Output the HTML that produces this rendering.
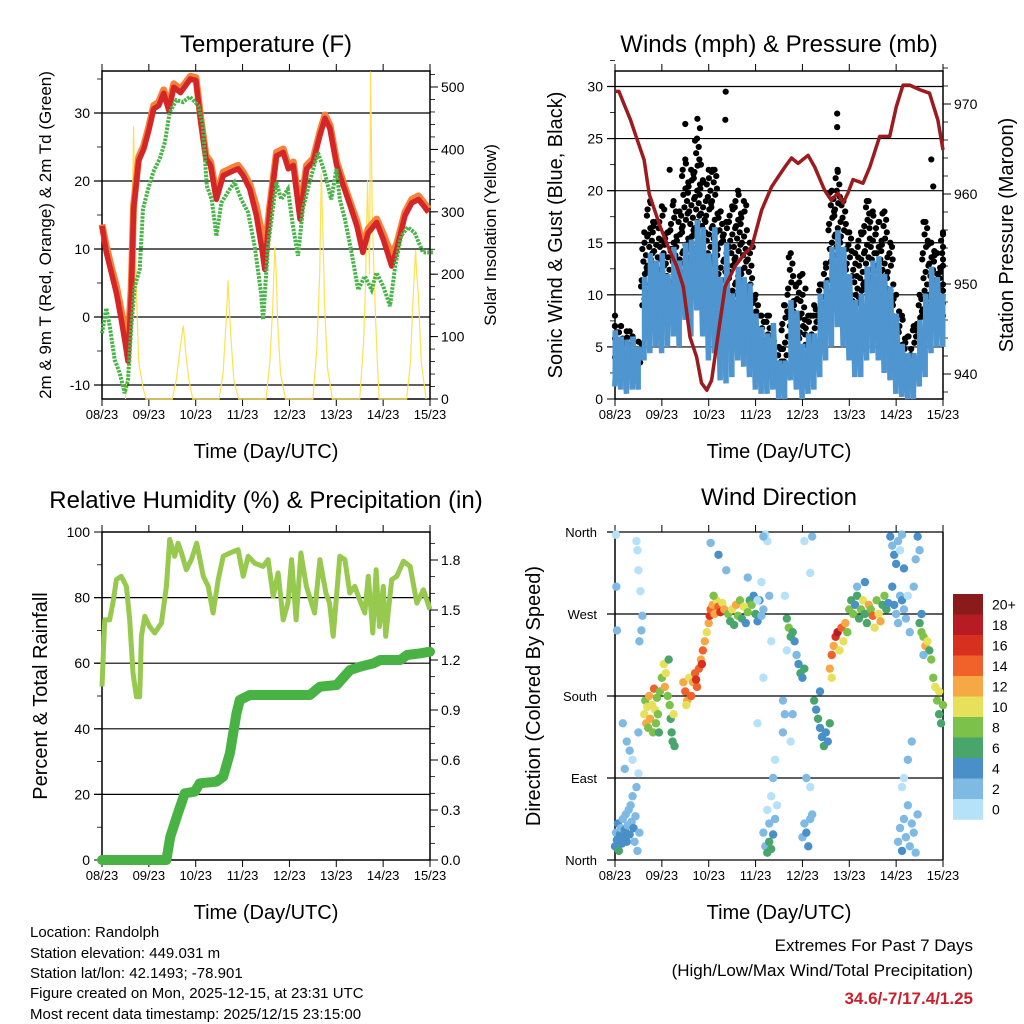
<!DOCTYPE html>
<html><head><meta charset="utf-8"><style>
html,body{margin:0;padding:0;background:#fff;}
svg{display:block;font-family:"Liberation Sans",Arial,sans-serif;}
</style></head><body>
<svg id="c" width="1024" height="1024" viewBox="0 0 1024 1024" xmlns="http://www.w3.org/2000/svg">
<rect width="1024" height="1024" fill="#fff"/>
<text x="266" y="52" font-size="24" text-anchor="middle">Temperature (F)</text>
<text x="779" y="52" font-size="24" text-anchor="middle">Winds (mph) &amp; Pressure (mb)</text>
<text x="266" y="508" font-size="24" text-anchor="middle">Relative Humidity (%) &amp; Precipitation (in)</text>
<text x="779" y="505" font-size="24" text-anchor="middle">Wind Direction</text>
<text x="266" y="458" font-size="20" text-anchor="middle">Time (Day/UTC)</text>
<text x="779" y="458" font-size="20" text-anchor="middle">Time (Day/UTC)</text>
<text x="266" y="919" font-size="20" text-anchor="middle">Time (Day/UTC)</text>
<text x="779" y="919" font-size="20" text-anchor="middle">Time (Day/UTC)</text>
<text transform="translate(51,235) rotate(-90)" font-size="17" text-anchor="middle">2m &amp; 9m T (Red, Orange) &amp; 2m Td (Green)</text>
<text transform="translate(496,235) rotate(-90)" font-size="17" text-anchor="middle">Solar Insolation (Yellow)</text>
<text transform="translate(562,235) rotate(-90)" font-size="20" text-anchor="middle">Sonic Wind &amp; Gust (Blue, Black)</text>
<text transform="translate(1013,235) rotate(-90)" font-size="20" text-anchor="middle">Station Pressure (Maroon)</text>
<text transform="translate(47,696) rotate(-90)" font-size="20" text-anchor="middle">Percent &amp; Total Rainfall</text>
<text transform="translate(540,696) rotate(-90)" font-size="20" text-anchor="middle">Direction (Colored By Speed)</text>
<text x="968" y="615" font-size="15" text-anchor="middle">mph</text>
<g font-size="15">
<text x="30" y="937">Location: Randolph</text>
<text x="30" y="958">Station elevation: 449.031 m</text>
<text x="30" y="978">Station lat/lon: 42.1493; -78.901</text>
<text x="30" y="998">Figure created on Mon, 2025-12-15, at 23:31 UTC</text>
<text x="30" y="1019">Most recent data timestamp: 2025/12/15 23:15:00</text>
</g>
<g font-size="17" text-anchor="end">
<text x="973" y="951">Extremes For Past 7 Days</text>
<text x="973" y="976">(High/Low/Max Wind/Total Precipitation)</text>
<text x="973" y="1004" fill="#c8202c" font-weight="bold">34.6/-7/17.4/1.25</text>
</g>
<g id="layer"></g>
</svg>
<script>
// ---------- data ----------
const dayLabels = ['08/23','09/23','10/23','11/23','12/23','13/23','14/23','15/23'];
const tempHrs = [0,2.2,4.8,7.4,9.9,11.6,13.3,15.0,16.2,18.8,21.4,23.9,26.5,29.1,31.6,34.2,36.8,40.2,45.3,48.1,50.6,53.2,55.6,58.6,62.1,67.2,69.7,72.3,75.7,79.1,81.7,83.4,86.0,89.4,92.8,95.4,98.0,101.4,104.8,108.2,111.6,114.2,116.8,120.2,123.6,127.1,130.5,133.6,136.4,140.7,144.1,148.4,151.0,155.2,158.7,162.1,164.6,167.2];
const temp2m = [13.4,9.5,6.5,3.5,-0.4,-3.3,-6.5,3.5,15.9,23,24.7,27.4,30.6,31.1,32.9,30.4,33.8,33,35,34.8,28.7,23.3,22.3,17.3,20.8,21.5,21.8,20.8,18.8,14.9,10.4,7.0,15.9,23.7,24.2,21.8,22.3,14.4,21.8,22.8,26.7,29.2,27.7,22.3,19.3,16.4,13.4,9.5,12.4,13.9,11.4,7.5,10,14.9,16.8,17.3,16.4,15.4];
const temp9m = [13.6,10.4,7.3,4.5,0.8,-1.9,-4.2,4.5,16.4,23.5,25.2,27.9,31.1,31.6,33.4,30.9,34.3,33.5,35.4,35.2,29.2,23.8,22.8,17.8,21.3,22,22.3,21.3,19.5,16.2,12.5,9.5,16.4,24.2,24.7,22.3,22.8,15.4,22.3,23.3,27.2,29.7,28.2,22.8,19.8,16.9,14.1,10.5,13,14.4,12.2,9,10.8,15.4,17.3,17.8,16.9,15.9];
const dewHrs = [0,2.2,4.0,6.5,9.1,11.6,13.3,15.0,16.8,19.3,21.0,23.6,26.2,29.6,32.2,34.7,38.1,41.5,45.0,49.3,51.6,53.7,56.2,58.6,61.1,65.4,67.9,71.3,74.8,78.2,81.5,82.5,85.0,89.3,91.8,95.2,97.8,100.4,102.9,106.3,110.6,114.0,117.4,120.1,121.8,124.4,127.8,131.2,134.6,138.1,140.6,144.1,147.5,150.2,153.2,156.6,160.1,164.4,169.5];
const dew2m = [-2.4,1.3,-1.4,-6.3,-8.3,-11.2,-9.3,-1.4,4.5,7,15.9,18.8,21.3,23.3,25.7,30.1,31.9,31.6,32.4,31.1,28.2,19.3,17.3,11.9,16.8,18.8,19.8,17.3,15.4,10.4,3.5,-0.4,10.4,19.8,17.3,18.8,13.4,9,15.9,19.8,24.2,21.3,17.3,21.8,17.3,14.4,9.5,4,6,4,6.5,4.5,1.6,7.5,11.9,13.2,12.4,9.5,9.5];
const solarHrs = [12,13.5,14.8,16.2,16.8,17.5,18.8,20.9,22.5, 36,38,40,41.6,42.3,43,44.5,46.5, 60,62,63.5,64.6,65.3,66,67.5,70, 84,86,87.5,88.5,89.3,90,91.5,94, 108,110,111.5,112.3,113.2,114,115.5,118, 132,134,135,136,137,137.6,138.4,139.5,141,142, 156,158,159,160.6,161.2,162,163.5,166];
const solarVal = [0,60,150,437,300,180,60,20,0, 0,30,80,118,95,70,30,0, 0,40,120,190,140,100,30,0, 0,60,150,244,200,120,40,0, 0,80,200,362,260,150,50,0, 0,90,190,350,200,525,300,180,60,0, 0,60,140,239,200,170,60,0];
const windHrs = [0,3,6,9,12,15,18,21,24,27,30,33,36,39,42,45,48,51,54,57,60,63,66,69,72,75,78,81,84,87,90,93,96,99,102,105,108,111,114,117,120,123,126,129,132,135,138,141,144,147,150,153,156,159,162,165,168];
const windLo = [1.2,0.9,0.5,0.9,0.9,3.7,4.4,5,4.4,5,6,5,7.6,6,8.5,6,3.7,4.4,1.8,1.5,2.1,3.7,3.1,2.1,0.9,0.5,0.5,0.9,0,0,1.8,0.9,0,0.5,0.9,2.1,3.7,5,6.9,5,3.7,2.1,2.1,3.7,4.4,3.7,2.5,1.8,0.5,0.2,0,0,1.2,2.1,4.4,5,5];
const windHi = [6.6,6,5.7,6,5,11.7,14,13.3,14,12,14.6,13.3,15,15.3,17.2,16.5,14,16.5,11.7,15,10.1,12.7,11.7,11.1,8.2,6.9,6.3,7.3,3.7,3.7,9.5,8.5,5.3,6.3,6.3,10.1,11.4,14.6,16.2,14.6,12,9.5,10.1,12.7,13.3,13.7,12,10.8,8.2,5.3,4.4,4.4,7.6,10.1,12.7,11.7,10.1];
const gustLo = [4,4,3.5,4,3.5,9,11,10,11,10,12,11,13,12,14,13,11,13,9,11,8,10,9,8,6,5,5,5,3,3,7,6,4,5,5,8,9,12,14,12,10,7,8,10,11,11,10,8,6,4,3,3,6,8,10,9,8];
const gustHi = [7,7,6.5,6,5.5,16,19,17,18.5,16,19,18,23,22,25,21,22,22,18,17,18.5,20,19,15,10,8,8,6,5,9,14,11,12,8,9,11,13,20,22,19,16,14,16,19,18,17,18,15,10,8,6,7,10,17,15,14,16];
const gustOutHrs = [0,36,42.2,43.5,56.7,56.5,113.8,113.8,162,163,28,44];
const gustOutVal = [8,26.4,26.9,26,29.5,26.8,27.4,26.1,23,20.4,22,22.5];
const presHrs = [0,2,4.6,8,11.4,14.9,17.5,23.1,28.2,31.6,35.0,38.4,41.8,44.3,47.0,49.5,52.9,56.4,61.5,66.6,70.0,75.1,80.2,83.6,87.0,90.4,93.8,98.9,102.3,107.4,110.8,114.2,116.8,119.3,121.9,127.0,130.5,135.6,140.7,144.1,147.5,150.9,156.0,161.1,165.4,168];
const presVal = [971.4,971.4,970,968.2,966,963.8,960,956.4,953.6,952,949.7,944.1,941.9,939,938.2,939.3,944.5,949.7,952,953.4,954.1,958.2,960.8,961.9,963,964,963.4,964.3,963,960.4,959.3,960.1,959,960.1,961.6,961.2,963,966.4,966.4,969.7,972.1,972.1,971.6,971.2,968.2,964.9];
const rhHrs = [0,1.4,3.9,5.6,7.4,9.9,12.5,14.2,15.9,17.6,19.3,20.2,21.9,24.4,27.0,30.4,33.0,34.7,37.2,39.0,40.7,43.2,45.8,48.5,51.9,54.4,56.9,59.5,62.1,65.5,69.7,72.3,74.9,78.2,82.5,85.1,87.7,90.2,92.8,95.2,97.1,99.4,101.9,104.7,108.9,111.6,114.7,116.6,118.4,121.8,124.4,126.9,129.5,132.0,134.6,136.4,138.7,140.4,142.1,144.1,145.3,148.4,151.0,154.4,157.8,161.3,164.6,168];
const rhVal = [52.9,73.2,73.2,78.3,85.5,86.5,83.4,73.2,57,49.8,49.8,68.2,74.3,71.2,69.2,72.2,83.4,97.7,92.6,96.6,93.6,88.5,91.6,96.6,86.5,83.4,75.3,85.5,92.6,93.6,94.6,86.5,92.6,90.5,89.5,91.6,80.4,87.5,73.2,78.3,91.6,73.2,93.6,83.4,75.3,91.6,81.4,78.3,68.2,92.6,91.6,81.4,83.4,79.3,75.3,86.5,69.2,88.5,71.2,83.4,68.2,85.5,86.5,91.1,89.5,78.3,82.4,76.3];
const rainHrs = [0,33,35,38.9,42.4,47.5,50.1,58.6,62.1,65.5,68.9,70.6,75.7,106.5,111.6,120.2,127.1,132.2,139.1,142.5,152.8,156.2,163.1,168];
const rainVal = [0,0,0.14,0.28,0.4,0.41,0.46,0.47,0.5,0.64,0.88,0.96,0.99,0.99,1.04,1.05,1.14,1.16,1.18,1.2,1.2,1.23,1.24,1.25];
const dirHrs = [0,0.5,1,1.5,2,2.5,3,3.5,4,4.5,5,5.5,6,6.5,7,7.5,8,8.5,9,9.5,10,10.5,11,12,11.5,12.5,5,6,4,7.5,9,12,0.5,0.7,1,11,11.5,12,13,14,13.5,12.5,
15,15.5,16,16.5,17,17.5,18,19,19.5,20,20.5,21,21.5,22,23,22.5,
24,25,25.5,26,27,28,28.5,29,29.5,30,30.5,27.5,
35,36,37,38,39,40,41,42,43,44,45,46,47,48,44.5,41.5,36.5,
48.5,49,50,51,52,53,54,55,56,50.5,
58,59,60,61,62,63,64,65,66,67,68,69,70,71,72,73,74,75,76,
49,53,57,68,75,73,77,78,76,79,80,76,73,
76,77,78,79,80,81,82,83,79,80,81,82,78,
88,89,90,91,92,93,94,95,96,97,87,88,86,87,86,90,91,
102,103,104,105,106,107,108,109,110,105,
96,97,98,99,100,101,100,98,101,100,97,
110,111,112,113,114,115,116,117,118,119,111,
120,121,122,123,124,125,126,127,128,129,130,131,132,133,134,135,136,137,138,139,140,124,128,
141,142,143,144,145,146,147,148,142,143,144,145,146,147,148,149,150,151,
145,146,147,148,149,150,151,152,153,154,155,148,150,152,147,155,156,153,154,
156,157,158,159,160,161,162,163,164,165,166,167,168,166,157,158];
const dirDeg = [15,30,22,40,10,28,35,18,45,25,33,50,20,38,55,28,60,42,70,35,20,48,80,95,10,30,100,130,150,120,110,140,357,300,252,350,340,318,295,268,252,240,
160,175,150,168,145,180,155,170,140,188,165,150,178,160,185,140,
200,215,190,205,180,170,155,140,130,160,125,220,
195,185,175,200,180,195,205,190,210,220,230,240,250,260,215,198,170,
268,275,280,270,285,278,272,282,275,290,
270,262,275,258,280,268,285,265,278,260,272,285,280,290,270,262,285,268,275,
348,335,318,310,305,285,357,350,355,290,240,200,150,
30,15,8,20,12,28,45,60,40,70,90,110,55,
265,255,245,250,240,225,215,205,200,210,290,230,175,160,140,130,160,
175,165,155,145,135,125,140,130,150,185,
25,40,30,15,45,50,80,90,355,315,350,
210,225,235,245,250,230,255,240,260,250,200,
275,285,270,280,290,265,275,285,270,260,280,275,268,255,285,270,262,280,290,275,282,300,305,
355,345,335,325,350,340,357,320,300,280,270,260,290,285,275,265,290,250,
20,35,10,45,25,60,15,40,30,8,50,90,110,130,80,355,340,300,330,
260,250,245,235,240,230,220,200,190,175,160,150,170,185,270,225];
const dirSpd = [4,3,5,4,7,4,3,5,3,4,4,2,4,3,2,4,2,3,2,4,3,2,2,1,3,2,2,3,2,2,1,2,1,2,3,1,1,1,1,2,3,2,
10,9,12,11,8,12,13,10,8,15,11,9,8,8,9,7,
8,10,12,11,9,8,7,6,7,10,7,6,
12,14,13,11,15,12,14,15,14,13,14,12,11,12,16,16,10,
16,14,13,12,11,14,16,10,13,9,
8,7,10,6,12,9,8,7,10,5,8,6,9,5,7,4,4,3,2,
3,4,2,3,1,1,1,1,2,2,1,1,1,
2,3,6,7,6,4,2,1,2,1,2,1,1,
7,8,7,6,5,3,4,6,5,6,1,1,2,2,3,1,3,
6,5,6,5,4,6,5,4,7,4,
2,3,4,4,3,2,1,2,2,1,1,
12,14,13,16,18,10,14,11,12,9,10,
8,6,9,5,7,6,8,10,7,6,12,9,14,10,8,11,12,6,8,6,5,3,4,
4,3,4,5,2,1,3,4,4,5,3,2,3,4,3,2,1,2,
3,2,4,3,2,2,3,2,3,2,2,1,2,2,1,4,3,3,2,
7,9,8,12,10,7,8,9,10,8,7,6,9,11,4,3];
const speedLabels = ['20+','18','16','14','12','10','8','6','4','2','0'];
const speedColors = ['#b5e2f8','#7ebae4','#4a90c8','#48a56b','#7cc24a','#e6e05a','#f6a845','#f0622a','#d7301f','#b71c24','#8b1a1a'];

// ---------- helpers ----------
const NS='http://www.w3.org/2000/svg';
const layer=document.getElementById('layer');
function mk(tag,attrs,parent){const e=document.createElementNS(NS,tag);for(const k in attrs)e.setAttribute(k,attrs[k]);(parent||layer).appendChild(e);return e;}
function grp(name){const g=document.createElementNS(NS,'g');


layer.appendChild(g);return g;}
function linScale(d0,d1,r0,r1){return v=>r0+(v-d0)*(r1-r0)/(d1-d0);}

const panels=[
 {id:'temp',x0:102,x1:430,y0:71,y1:399},
 {id:'winds',x0:615,x1:943,y0:71,y1:399},
 {id:'humidity',x0:102,x1:430,y0:532,y1:860},
 {id:'direction',x0:615,x1:943,y0:532,y1:860}
];
panels.forEach(p=>{p.x=linScale(0,168,p.x0,p.x1);});
const P1=panels[0],P2=panels[1],P3=panels[2],P4=panels[3];
P1.yL=linScale(0,30,317,113); P1.yR=linScale(0,500,399,87);
P2.yL=linScale(0,30,399,86.5); P2.yR=linScale(940,970,374,104);
P3.yL=linScale(0,100,860,532); P3.yR=linScale(0,1.8,860,560);
P4.yL=linScale(0,360,860,532);

function pathD(xs,ys){return xs.map((v,i)=>(i?'L':'M')+v.toFixed(1)+','+ys[i].toFixed(1)).join('');}

function frame(p,leftTicks,rightTicks,gridVals,yL,yR){
 const g=grp(p.id+'-axes');
 gridVals.forEach(v=>{const y=yL(v);mk('line',{x1:p.x0-8,x2:p.x1,y1:y,y2:y,stroke:'#000','stroke-width':1.2},g);});
 mk('rect',{x:p.x0,y:p.y0,width:p.x1-p.x0,height:p.y1-p.y0,fill:'none',stroke:'#000','stroke-width':1.5},g);
 const gx=grp(p.id+'-x-axis');
 dayLabels.forEach((lab,i)=>{const x=p.x(i*24);
  mk('line',{x1:x,x2:x,y1:p.y1,y2:p.y1+7,stroke:'#000'},gx);
  mk('line',{x1:x,x2:x,y1:p.y0,y2:p.y0-7,stroke:'#000'},gx);
  const t=mk('text',{x:x,y:p.y1+20,'font-size':13,'text-anchor':'middle'},gx);t.textContent=lab;});
 const gl=grp(p.id+'-left-axis');
 leftTicks.minor.forEach(v=>{const y=yL(v);mk('line',{x1:p.x0-5,x2:p.x0,y1:y,y2:y,stroke:'#000','stroke-width':0.8},gl);});
 leftTicks.major.forEach((v,i)=>{const y=yL(v);mk('line',{x1:p.x0-8,x2:p.x0,y1:y,y2:y,stroke:'#000'},gl);
  const t=mk('text',{x:p.x0-12,y:y+5,'font-size':14,'text-anchor':'end'},gl);t.textContent=leftTicks.labels[i];});
 if(rightTicks){const gr=grp(p.id+'-right-axis');
  rightTicks.minor.forEach(v=>{const y=yR(v);mk('line',{x1:p.x1,x2:p.x1+5,y1:y,y2:y,stroke:'#000','stroke-width':0.8},gr);});
  rightTicks.major.forEach((v,i)=>{const y=yR(v);mk('line',{x1:p.x1,x2:p.x1+8,y1:y,y2:y,stroke:'#000'},gr);
   const t=mk('text',{x:p.x1+11,y:y+5,'font-size':14,'text-anchor':'start'},gr);t.textContent=rightTicks.labels[i];});}
}
function range(a,b,s){const r=[];for(let v=a;v<=b+1e-9;v+=s)r.push(+v.toFixed(3));return r;}

// ---------- Panel 1 ----------
frame(P1,{major:[-10,0,10,20,30],labels:['-10','0','10','20','30'],minor:range(-10,35,5)},
 {major:[0,100,200,300,400,500],labels:['0','100','200','300','400','500'],minor:range(0,520,20)},[-10,0,10,20,30],P1.yL,P1.yR);
(function(){
 const gs=grp('solar-insolation-line');
 mk('path',{d:pathD(solarHrs.map(P1.x),solarVal.map(P1.yR)),fill:'none',stroke:'#fde154','stroke-width':1.2},gs);
 const go=grp('temp-9m-line');
 mk('path',{d:pathD(tempHrs.map(P1.x),temp9m.map(P1.yL)),fill:'none',stroke:'#f5823a','stroke-width':7,'stroke-linejoin':'round'},go);
 const gr=grp('temp-2m-line');
 mk('path',{d:pathD(tempHrs.map(P1.x),temp2m.map(P1.yL)),fill:'none',stroke:'#d42527','stroke-width':5.5,'stroke-linejoin':'round'},gr);
 const gd=grp('dewpoint-line');
 mk('path',{d:pathD(dewHrs.map(P1.x),dew2m.map(P1.yL)),fill:'none',stroke:'#47b448','stroke-width':4,'stroke-dasharray':'2.5 1.2'},gd);
})();

// ---------- Panel 2 ----------
frame(P2,{major:[0,5,10,15,20,25,30],labels:['0','5','10','15','20','25','30'],minor:range(0,32.5,2.5)},
 {major:[940,950,960,970],labels:['940','950','960','970'],minor:range(938,974,2)},[5,10,15,20,25,30],P2.yL,P2.yR);
(function(){
 const gg=grp('gust-points');
 const offs=[-1.2,0.3,1.1,-0.4,0.8,-0.9,0.1,1.4,-1.5];
 windHrs.forEach((h,i)=>{let k=0;
  for(let v=gustLo[i];v<=gustHi[i]+1e-6;v+=0.6){
   const hh=Math.min(168,Math.max(0,h+offs[(k+i)%offs.length]*1.1));k++;
   const c=mk('circle',{cx:P2.x(hh),cy:P2.yL(v),r:3.1,fill:'#000'},gg);
   
   
  }
  const c2=mk('circle',{cx:P2.x(h),cy:P2.yL(gustHi[i]),r:3.1,fill:'#000'},gg);
  
  
 });
 gustOutHrs.forEach((h,i)=>{const c=mk('circle',{cx:P2.x(h),cy:P2.yL(gustOutVal[i]),r:3.1,fill:'#000'},gg);
  
  });
 const gw=grp('sonic-wind-band');
 windHrs.forEach((h,i)=>{
  const x=P2.x(h);
  const r=mk('rect',{x:x-2.5,y:P2.yL(windHi[i]),width:5,height:P2.yL(windLo[i])-P2.yL(windHi[i]),fill:'#4f95cf'},gw);
  
  
 });
 const zx=[],zy=[];
 windHrs.forEach((h,i)=>{zx.push(P2.x(h)-1.5,P2.x(h)+1.5);zy.push(P2.yL(windLo[i]),P2.yL(windHi[i]));});
 mk('path',{d:pathD(zx,zy),fill:'none',stroke:'#4f95cf','stroke-width':3},gw);
 const gp=grp('pressure-line');
 mk('path',{d:pathD(presHrs.map(P2.x),presVal.map(P2.yR)),fill:'none',stroke:'#9b1b1e','stroke-width':3.5,'stroke-linejoin':'round'},gp);
})();

// ---------- Panel 3 ----------
frame(P3,{major:[0,20,40,60,80,100],labels:['0','20','40','60','80','100'],minor:range(0,100,10)},
 {major:[0,0.3,0.6,0.9,1.2,1.5,1.8],labels:['0.0','0.3','0.6','0.9','1.2','1.5','1.8'],minor:range(0,1.9,0.1)},[20,40,60,80],P3.yL,P3.yR);
(function(){
 const gh=grp('relative-humidity-line');
 mk('path',{d:pathD(rhHrs.map(P3.x),rhVal.map(P3.yL)),fill:'none',stroke:'#96c94e','stroke-width':5,'stroke-linejoin':'round'},gh);
 const gr=grp('total-rainfall-line');
 mk('path',{d:pathD(rainHrs.map(P3.x),rainVal.map(P3.yR)),fill:'none',stroke:'#49b245','stroke-width':10,'stroke-linecap':'round','stroke-linejoin':'round'},gr);
})();

// ---------- Panel 4 ----------
(function(){
 const p=P4;const g=grp('direction-axes');
 [90,180,270,360,0].forEach(v=>{const y=p.yL(v);mk('line',{x1:p.x0-8,x2:p.x1,y1:y,y2:y,stroke:'#000','stroke-width':1.2},g);});
 mk('line',{x1:p.x0,x2:p.x0,y1:p.y0,y2:p.y1,stroke:'#000','stroke-width':1.5},g);
 mk('line',{x1:p.x1,x2:p.x1,y1:p.y0,y2:p.y1,stroke:'#000','stroke-width':1.5},g);
 const gx=grp('direction-x-axis');
 dayLabels.forEach((lab,i)=>{const x=p.x(i*24);
  mk('line',{x1:x,x2:x,y1:p.y1,y2:p.y1+7,stroke:'#000'},gx);
  mk('line',{x1:x,x2:x,y1:p.y0,y2:p.y0-7,stroke:'#000'},gx);
  const t=mk('text',{x:x,y:p.y1+20,'font-size':13,'text-anchor':'middle'},gx);t.textContent=lab;});
 const gl=grp('direction-y-axis');
 const dl=['North','East','South','West','North'];
 [0,90,180,270,360].forEach((v,i)=>{const t=mk('text',{x:p.x0-18,y:p.yL(v)+5,'font-size':13,'text-anchor':'end'},gl);t.textContent=dl[i];});
 const gpts=grp('direction-points');
 dirHrs.forEach((h,i)=>{
  const ci=Math.min(10,Math.floor(dirSpd[i]/2));
  const c=mk('circle',{cx:p.x(h),cy:p.yL(dirDeg[i]),r:4.2,fill:speedColors[ci]},gpts);
  
  
 });
 const gc=grp('speed-colorbar');
 const top=594,h=20.5;
 speedLabels.forEach((lab,i)=>{
  const r=mk('rect',{x:953,y:top+i*h,width:30,height:h+0.3,fill:speedColors[10-i]},gc);
  
  
  const t=mk('text',{x:992,y:top+i*h+h/2+5,'font-size':14},gc);t.textContent=lab;
 });
})();
</script>
</body></html>
